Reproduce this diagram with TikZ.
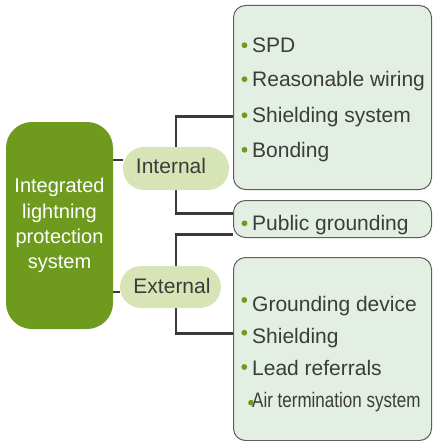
\documentclass[tikz,border=0pt]{standalone}
\usepackage{fontspec}
\setmainfont{Liberation Sans}
\usepackage{graphicx}
\usetikzlibrary{backgrounds}
\definecolor{leafgreen}{HTML}{6E9A1D}
\definecolor{palegreen}{HTML}{D7E4B6}
\definecolor{boxgreen}{HTML}{E3EFE2}
\definecolor{boxgray}{HTML}{5F5F5F}
\definecolor{linegray}{HTML}{3A3A3A}
\definecolor{txtgray}{HTML}{3C3C3C}

\begin{document}
\begin{tikzpicture}[x=1pt,y=-1pt,
    mainbox/.style={fill=leafgreen,text=white,rounded corners=26pt,minimum width=107pt,minimum height=207pt,
      align=center,inner sep=0pt,font=\fontsize{20}{25.3}\selectfont},
    subnode/.style={fill=palegreen,text=txtgray,rounded corners=21pt,inner sep=0pt,text height=15pt,
      font=\fontsize{21}{25}\selectfont},
    grpbox/.style={draw=boxgray,line width=1pt,fill=boxgreen,rounded corners=12pt,anchor=north west,
      minimum width=198pt,inner sep=0pt},
    item/.style={anchor=base west,inner sep=0pt,text=txtgray,font=\fontsize{21}{25}\selectfont},
    bulletdot/.style={fill=leafgreen},
    conn/.style={draw=linegray,line width=2.2pt}]
  \useasboundingbox (0,0) rectangle (432,441);

  \node[mainbox] (sys) at (59.5,225.5) {Integrated\\lightning\\protection\\system};
  \node[subnode,minimum width=106pt,minimum height=43pt,text depth=5pt] (int) at (176,168.5) {Internal\hspace*{10pt}};
  \node[subnode,minimum width=101pt,minimum height=42pt,text depth=1.5pt] (ext) at (170.5,287) {\hspace*{3pt}External};

  \node[grpbox,minimum height=184pt] (inbox) at (233,5) {};
  \node[grpbox,minimum height=37pt] (pubbox) at (233,200) {};
  \node[grpbox,minimum height=183pt] (exbox) at (233,257) {};

  % internal measures
  \foreach \y/\t [count=\i] in {52.7/SPD, 86.7/Reasonable wiring, 122.7/Shielding system, 157.3/Bonding} {
    \fill[bulletdot] (244.5,\y-7.5) circle (2.9pt);
    \node[item] (initem\i) at (252,\y) {\t};
  }

  \fill[bulletdot] (244.5,223.3) circle (2.9pt);
  \node[item] (pubitem) at (252,230.7) {Public grounding};

  % external measures
  \fill[bulletdot] (244.3,300) circle (2.9pt);
  \node[item] (exitem1) at (252,311.7) {Grounding device};
  \fill[bulletdot] (244.3,332.7) circle (2.9pt);
  \node[item] (exitem2) at (252,343.3) {Shielding};
  \fill[bulletdot] (244.3,367) circle (2.9pt);
  \node[item] (exitem3) at (252,375) {Lead referrals};
  \node[item] (exitem4) at (252,407.3) {\scalebox{0.81}[1]{Air termination system}};
  \fill[bulletdot] (251,402.7) circle (2.9pt);

  \coordinate (intin) at ([yshift=8.5pt]int.west);
  \coordinate (extin) at ([yshift=-5pt]ext.west);
  \coordinate (ina) at ([yshift=-19pt]inbox.west);
  \coordinate (pba) at ([yshift=5.5pt]pubbox.west);
  \coordinate (pbb) at ([yshift=-15.5pt]pubbox.west);
  \coordinate (exa) at ([yshift=15.5pt]exbox.west);

  \begin{scope}[on background layer]
    \draw[conn] (sys.east |- intin) -- (intin);
    \draw[conn] (sys.east |- extin) -- (extin);
    \draw[conn] (ina) -| (int.center) |- (pba);
    \draw[conn] (pbb) -| (int.center |- ext.center) |- (exa);
  \end{scope}
\end{tikzpicture}
\end{document}
